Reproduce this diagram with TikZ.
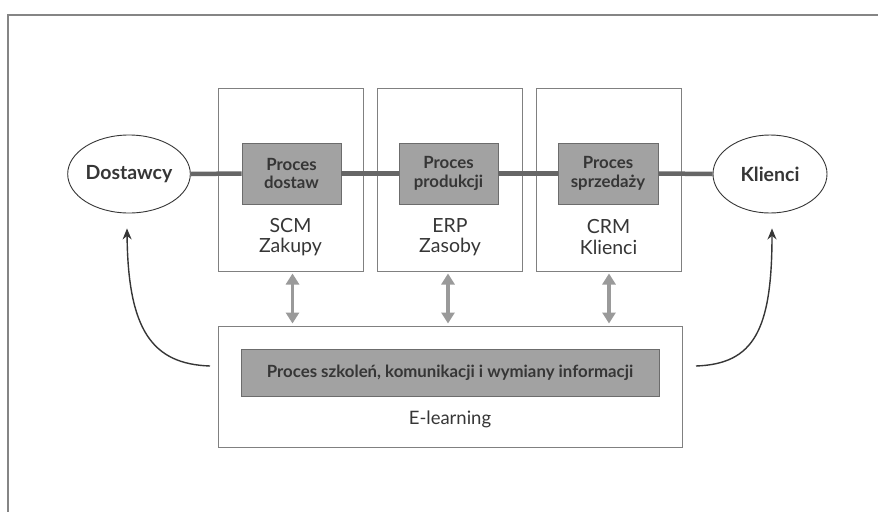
\documentclass[tikz,border=0pt]{standalone}
\usepackage{fontspec}
\setmainfont{Lato}
\usetikzlibrary{arrows.meta,shapes.geometric}

\definecolor{ink}{HTML}{363636}
\definecolor{procfill}{HTML}{A2A2A2}
\definecolor{procedge}{HTML}{6C6C6C}
\definecolor{linkgrey}{HTML}{666666}
\definecolor{twoway}{HTML}{9A9A9A}
\definecolor{boxedge}{HTML}{808080}
\definecolor{framegrey}{HTML}{858585}

\tikzset{
  sysbox/.style={draw=boxedge, line width=1pt, fill=white, minimum width=145pt, minimum height=183pt, inner sep=0pt},
  procbox/.style={draw=procedge, line width=0.9pt, fill=procfill, minimum height=61pt, inner sep=0pt,
    text=ink, font=\fontsize{16.8}{18.5}\selectfont\bfseries, align=center},
  partner/.style={ellipse, draw=ink, line width=0.9pt, fill=white, minimum width=114pt, minimum height=78pt,
    inner sep=0pt, text=ink, font=\fontsize{19.5}{22}\selectfont\bfseries},
  syslabel/.style={text=ink, font=\fontsize{19.5}{20.5}\selectfont, align=center},
  chain/.style={draw=linkgrey, line width=4.5pt},
  exchange/.style={draw=twoway, line width=3.5pt, {Triangle[length=11pt,width=13pt]}-{Triangle[length=11pt,width=13pt]}},
  feedback/.style={draw=ink, line width=1.4pt, -{Stealth[length=11pt,width=9pt]}},
}

\begin{document}
\begin{tikzpicture}[x=1pt, y=-1pt]
\useasboundingbox (0,0) rectangle (878,512);
\fill[white] (0,0) rectangle (878,512);

% page frame (open to the right and bottom)
\draw[framegrey, line width=1.6pt] (878,15) -- (8,15) -- (8,512);

% the three systems
\node[sysbox] (scm) at (290.5,179.5) {};
\node[sysbox] (erp) at (450,179.5) {};
\node[sysbox] (crm) at (608.5,179.5) {};

\node[syslabel] (scmtxt) at (290.5,237) {SCM\\Zakupy};
\node[syslabel] (erptxt) at (450,237) {ERP\\Zasoby};
\node[syslabel] (crmtxt) at (608.5,237) {CRM\\Klienci};

% suppliers and customers
\node[partner] (dost) at (129,174) {Dostawcy};
\node[partner] (klie) at (770,174) {Klienci};

% process boxes on the value chain
\node[procbox, minimum width=99pt] (pdost) at (291.5,173.5) {Proces\\dostaw};
\node[procbox, minimum width=99pt] (pprod) at (448.5,173.5) {Proces\\produkcji};
\node[procbox, minimum width=100pt] (psprz) at (608,173.5) {Proces\\sprzedaży};

% value chain links
\draw[chain] (dost.east) -- (pdost.west);
\draw[chain] (pdost.east) -- (pprod.west);
\draw[chain] (pprod.east) -- (psprz.west);
\draw[chain] (psprz.east) -- (klie.west);

% e-learning layer
\node[draw=boxedge, line width=1pt, fill=white, minimum width=464pt, minimum height=121pt, inner sep=0pt] (elearn) at (450,386.5) {};
\node[procbox, minimum width=418pt, minimum height=47pt] (pszk) at (450,372.5)
  {Proces szkoleń, komunikacji i wymiany informacji};
\node[syslabel, font=\fontsize{18.5}{20}\selectfont] (eltxt) at (450,419) {E-learning};

% two-way exchange between systems and e-learning
\draw[exchange, shorten <=2pt, shorten >=2pt] ([xshift=2pt]scm.south) -- ([xshift=2pt]scm.south |- elearn.north);
\draw[exchange, shorten <=2pt, shorten >=2pt] ([xshift=-2pt]erp.south) -- ([xshift=-2pt]erp.south |- elearn.north);
\draw[exchange, shorten <=2pt, shorten >=2pt] ([xshift=0.5pt]crm.south) -- ([xshift=0.5pt]crm.south |- elearn.north);

% feedback to suppliers and customers
\coordinate (lstart) at (210,366);
\coordinate (rstart) at (696,366);
\draw[feedback] (lstart) .. controls (152,364) and (128,330) .. ([xshift=-2pt, yshift=-15pt]dost.south);
\draw[feedback] (rstart) .. controls (754,364) and (772,330) .. ([xshift=2pt, yshift=-15pt]klie.south);
\end{tikzpicture}
\end{document}
